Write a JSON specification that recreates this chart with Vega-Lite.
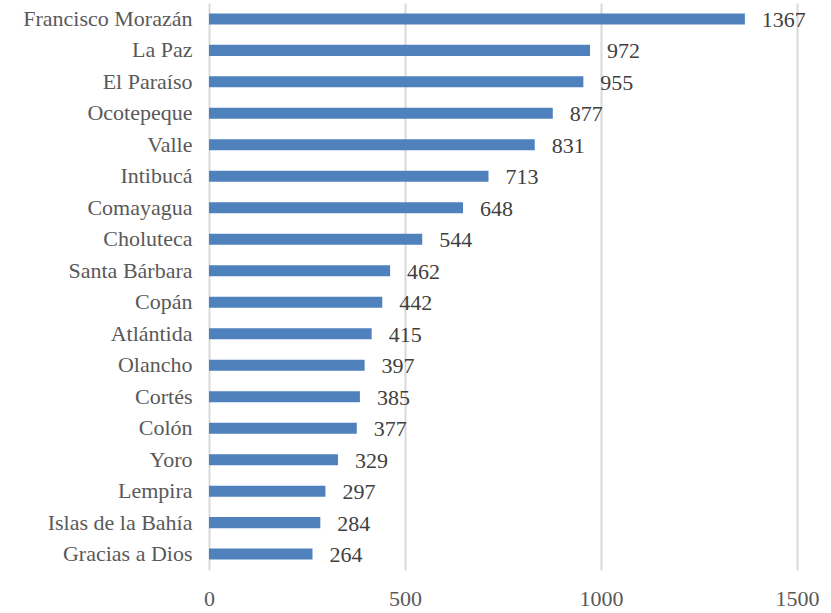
{
  "$schema": "https://vega.github.io/schema/vega-lite/v6.json",
  "autosize": "none",
  "width": 588,
  "height": 567,
  "padding": {"left": 209, "top": 3, "right": 34, "bottom": 43},
  "background": "white",
  "data": {"values": [
    {"dept": "Francisco Morazán", "value": 1367},
    {"dept": "La Paz", "value": 972},
    {"dept": "El Paraíso", "value": 955},
    {"dept": "Ocotepeque", "value": 877},
    {"dept": "Valle", "value": 831},
    {"dept": "Intibucá", "value": 713},
    {"dept": "Comayagua", "value": 648},
    {"dept": "Choluteca", "value": 544},
    {"dept": "Santa Bárbara", "value": 462},
    {"dept": "Copán", "value": 442},
    {"dept": "Atlántida", "value": 415},
    {"dept": "Olancho", "value": 397},
    {"dept": "Cortés", "value": 385},
    {"dept": "Colón", "value": 377},
    {"dept": "Yoro", "value": 329},
    {"dept": "Lempira", "value": 297},
    {"dept": "Islas de la Bahía", "value": 284},
    {"dept": "Gracias a Dios", "value": 264}
  ]},
  "encoding": {
    "y": {"field": "dept", "type": "nominal", "sort": null,
      "scale": {"paddingInner": 0.65, "paddingOuter": 0.33},
      "axis": {"title": null, "domain": false, "ticks": false, "labelPadding": 17,
        "labelFont": "Liberation Serif", "labelFontSize": 22, "labelColor": "#595959"}},
    "x": {"field": "value", "type": "quantitative",
      "scale": {"domain": [0, 1500], "nice": false},
      "axis": {"title": null, "values": [0, 500, 1000, 1500], "format": "d", "domain": false, "ticks": false,
        "labelPadding": 18, "labelFont": "Liberation Serif", "labelFontSize": 22, "labelColor": "#595959",
        "grid": true, "gridColor": "#d9d9d9", "gridWidth": 2, "labelFlush": false}}
  },
  "layer": [
    {"mark": {"type": "bar", "color": "#4f81bd"}},
    {"mark": {"type": "text", "align": "left", "baseline": "middle", "dx": 17, "dy": 1,
      "font": "Liberation Serif", "fontSize": 22, "color": "#404040"},
     "encoding": {"text": {"field": "value", "type": "quantitative"}}}
  ],
  "config": {"view": {"stroke": null}}
}
